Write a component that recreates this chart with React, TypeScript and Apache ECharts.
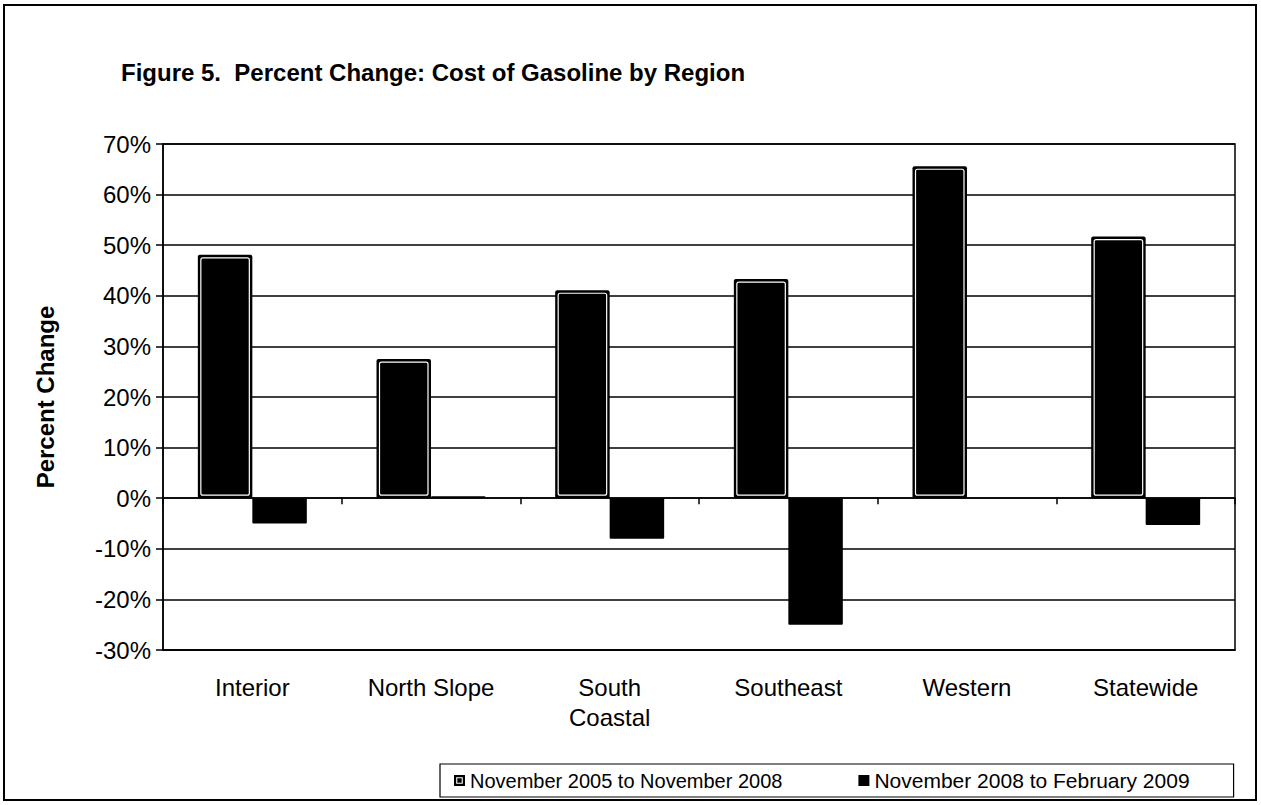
import React, { useEffect, useRef } from "react";
import * as echarts from "echarts";

const categories = ["Interior", "North Slope", "South\nCoastal", "Southeast", "Western", "Statewide"];
const seriesNames = ["November 2005 to November 2008", "November 2008 to February 2009"];
const values2005to2008 = [48.1, 27.5, 41.1, 43.3, 65.6, 51.7];
const values2008to2009 = [-5.0, 0.4, -8.0, -25.0, 0, -5.3];
const yMin = -30;
const yMax = 70;
const yStep = 10;

const GAP = 0.39;

export default function App() {
  const ref = useRef<HTMLDivElement>(null);
  useEffect(() => {
    if (!ref.current) return;
    const chart = echarts.init(ref.current, null, { renderer: "svg" });
    const font = "Liberation Sans, Arial, sans-serif";
    const option: any = {
      animation: false,
      backgroundColor: "#fff",
      title: {
        text: "Figure 5.  Percent Change: Cost of Gasoline by Region",
        left: 116,
        top: 55,
        textStyle: { fontFamily: font, fontSize: 24, fontWeight: "bold", color: "#000" },
      },
      graphic: [
        {
          type: "rect",
          shape: { x: 4, y: 5, width: 1252, height: 795 },
          style: { fill: "none", stroke: "#000", lineWidth: 2 },
          silent: true,
        },
      ],
      legend: {
        left: 440,
        top: 764,
        orient: "horizontal",
        padding: [6, 44, 6, 14],
        borderColor: "#000",
        borderWidth: 1.2,
        itemWidth: 11,
        itemHeight: 11,
        itemGap: 76,
        textStyle: { fontFamily: font, fontSize: 20, color: "#000" },
        data: [
          {
            name: seriesNames[0],
            icon: "path://M0,0H10V10H0Z M2,2V8H8V2Z M3,3H7V7H3Z",
          },
          { name: seriesNames[1], icon: "rect", textStyle: { fontSize: 21 } },
        ],
      },
      grid: {
        left: 163,
        right: 26,
        top: 144,
        bottom: 155,
        show: true,
        borderColor: "#000",
        borderWidth: 1.5,
        containLabel: false,
      },
      xAxis: [
        {
          type: "category",
          data: categories,
          position: "bottom",
          axisLine: { onZero: false, lineStyle: { color: "#000", width: 1.5 } },
          axisTick: { show: false },
          axisLabel: {
            fontFamily: font,
            fontSize: 24,
            color: "#000",
            margin: 22,
            lineHeight: 30,
          },
        },
        {
          type: "category",
          data: categories,
          position: "top",
          axisLine: { onZero: true, lineStyle: { color: "#000", width: 1.5 } },
          axisTick: { show: true, inside: true, length: 6, lineStyle: { color: "#000", width: 1.5 } },
          axisLabel: { show: false },
        },
      ],
      yAxis: {
        type: "value",
        min: yMin,
        max: yMax,
        interval: yStep,
        name: "Percent Change",
        nameLocation: "middle",
        nameGap: 106,
        nameTextStyle: { fontFamily: font, fontSize: 24, fontWeight: "bold", color: "#000" },
        axisLine: { show: true, lineStyle: { color: "#000", width: 1.5 } },
        axisTick: { show: true, length: 7, lineStyle: { color: "#000", width: 1.5 } },
        axisLabel: {
          fontFamily: font,
          fontSize: 24,
          color: "#000",
          margin: 12,
          formatter: "{value}%",
        },
        splitLine: { show: true, lineStyle: { color: "#000", width: 1.6 } },
      },
      series: [
        {
          name: seriesNames[0],
          type: "bar",
          xAxisIndex: 0,
          data: values2005to2008,
          barGap: "0%",
          barCategoryGap: GAP * 100 + "%",
          itemStyle: { color: "#000", borderRadius: 2 },
        },
        {
          name: seriesNames[1],
          type: "bar",
          xAxisIndex: 0,
          data: values2008to2009,
          barGap: "0%",
          barCategoryGap: GAP * 100 + "%",
          itemStyle: { color: "#000", borderRadius: 1 },
        },
        {
          name: "inner",
          type: "custom",
          xAxisIndex: 0,
          silent: true,
          z: 5,
          data: values2005to2008.map((v, i) => [i, v]),
          renderItem: (params: any, api: any) => {
            const idx = api.value(0);
            const v = api.value(1);
            const catW = api.size([1, 0])[0];
            const barW = (catW * (1 - GAP)) / 2;
            const base = api.coord([idx, 0]);
            const top = api.coord([idx, v]);
            const inset = 3;
            const y0 = Math.min(top[1], base[1]);
            const h = Math.abs(base[1] - top[1]);
            return {
              type: "rect",
              shape: {
                x: base[0] - barW + inset,
                y: y0 + inset,
                width: barW - 2 * inset,
                height: Math.max(0, h - 2 * inset),
                r: 2,
              },
              style: { fill: "none", stroke: "#fff", lineWidth: 1.2 },
            };
          },
        },
      ],
    };
    chart.setOption(option);
    return () => chart.dispose();
  }, []);
  return (
    <div
      ref={ref}
      style={{ position: "fixed", left: 0, top: 0, width: 1261, height: 805, background: "#fff" }}
    />
  );
}
